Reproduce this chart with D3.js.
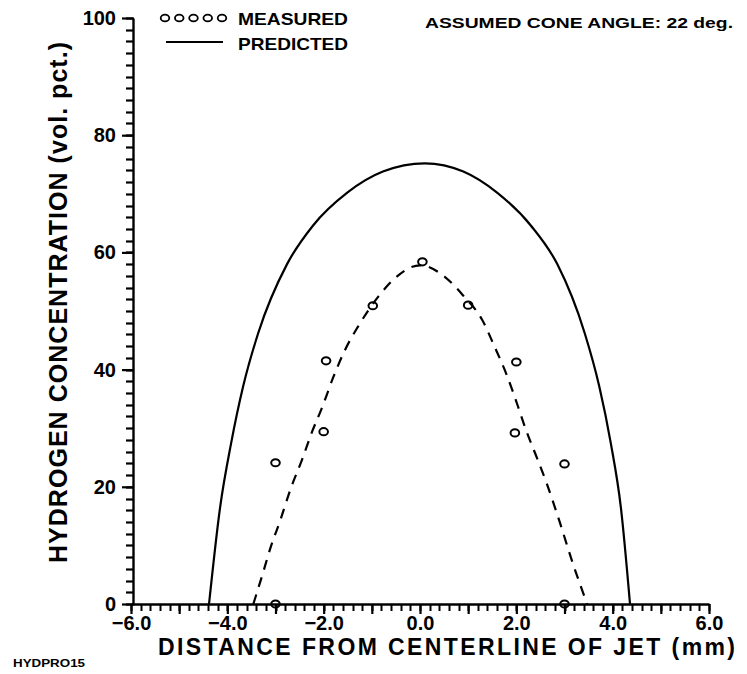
<!DOCTYPE html>
<html>
<head>
<meta charset="utf-8">
<script src="https://cdn.jsdelivr.net/npm/d3@7"></script>
<style>
  body { margin: 0; background: #fff; }
  text { font-family: "Liberation Sans", "DejaVu Sans", sans-serif; fill: #000; }
</style>
</head>
<body>
<div id="chart"></div>
<script>
// valeurs mesurées (cercles)
const measuredX = [-3.0, -2.0, -1.95, -0.98, 0.05, 1.0, 2.0, 1.97, 3.0, -3.0, 3.0];
const measuredY = [24.1, 29.4, 41.5, 50.9, 58.4, 51.0, 41.3, 29.2, 23.9, 0, 0];

// courbe prédite (trait plein)
const predictedX = [-4.38, -4.15, -3.92, -3.67, -3.36, -2.76, -2.22, -1.51, -0.77, 0.1, 0.9, 1.6, 2.3, 2.85, 3.42, 3.72, 3.96, 4.17, 4.36];
const predictedY = [0, 16.5, 27.5, 37.2, 46.2, 58.0, 64.6, 70.2, 73.8, 75.2, 73.8, 70.2, 64.6, 58.0, 46.2, 37.2, 27.5, 16.5, 0];

// courbe ajustée (tirets)
const fitX = [-3.46, -3.26, -3.1, -2.9, -2.68, -2.45, -2.24, -2.03, -1.8, -1.56, -1.29, -0.87, -0.56, 0.0, 0.52, 0.89, 1.29, 1.56, 1.8, 2.01, 2.2, 2.43, 2.63, 2.9, 3.17, 3.47];
const fitY = [0, 5.3, 9.7, 14.3, 19.8, 24.6, 29.4, 33.6, 38.7, 43.3, 47.3, 52.4, 55.3, 57.8, 55.8, 52.7, 48.5, 43.7, 39.1, 34.3, 29.7, 24.9, 20.6, 14.0, 7.0, 0];

// graduations
const xLabelTicks = [-6, -4, -2, 0, 2, 4, 6];
const yLabelTicks = [0, 20, 40, 60, 80, 100];
const xMinor = d3.range(-30, 31).map(i => i / 5);
const xMajor = d3.range(-6, 7);
const yMinor = d3.range(0, 101, 2);

const svg = d3.select("#chart")
    .append("svg")
    .attr("width", 747)
    .attr("height", 674);

const x = d3.scaleLinear().domain([-6, 6]).range([131, 709]);
const y = d3.scaleLinear().domain([0, 100]).range([604, 18]);

// Petites graduations X (vers le bas)
svg.append("g")
    .selectAll("line")
    .data(xMinor)
    .enter()
    .append("line")
    .attr("x1", d => Math.round(x(d)) + 0.5).attr("x2", d => Math.round(x(d)) + 0.5)
    .attr("y1", y(0)).attr("y2", y(0) + 7)
    .attr("stroke", "#000")
    .attr("stroke-width", 2);

// Petites graduations Y (vers la gauche)
svg.append("g")
    .selectAll("line")
    .data(yMinor)
    .enter()
    .append("line")
    .attr("x1", 134).attr("x2", 126)
    .attr("y1", d => Math.round(y(d)) + 0.5).attr("y2", d => Math.round(y(d)) + 0.5)
    .attr("stroke", "#000")
    .attr("stroke-width", 2.2);

// Axe X : graduations entières + étiquettes
svg.append("g")
    .attr("transform", "translate(0,604)")
    .call(d3.axisBottom(x).tickValues(xMajor).tickSize(10).tickFormat("").tickSizeOuter(0))
    .call(g => g.select(".domain").attr("stroke", "#000").attr("stroke-width", 2.4))
    .call(g => g.selectAll(".tick line").attr("stroke", "#000").attr("stroke-width", 2.2));

svg.append("g")
    .attr("transform", "translate(0,604)")
    .call(d3.axisBottom(x).tickValues(xLabelTicks).tickSize(0).tickPadding(12).tickFormat(d3.format(".1f")))
    .call(g => g.select(".domain").remove())
    .call(g => g.selectAll("text")
        .attr("font-size", 20)
        .attr("font-weight", "bold"));

// Axe Y
svg.append("g")
    .attr("transform", "translate(133,0)")
    .call(d3.axisLeft(y).tickValues(yLabelTicks).tickSize(11).tickPadding(6).tickFormat(d3.format("d")).tickSizeOuter(0))
    .call(g => g.select(".domain").attr("stroke", "#000").attr("stroke-width", 2.4))
    .call(g => g.selectAll(".tick line").attr("stroke", "#000").attr("stroke-width", 2.2))
    .call(g => g.selectAll("text")
        .attr("font-size", 20)
        .attr("font-weight", "bold"));

// Courbes
const line = d3.line()
    .x(d => x(d[0]))
    .y(d => y(d[1]))
    .curve(d3.curveMonotoneX);

svg.append("path")
    .datum(d3.zip(predictedX, predictedY))
    .attr("d", line)
    .attr("fill", "none")
    .attr("stroke", "#000")
    .attr("stroke-width", 2.2);

svg.append("path")
    .datum(d3.zip(fitX, fitY))
    .attr("d", line)
    .attr("fill", "none")
    .attr("stroke", "#000")
    .attr("stroke-width", 2.2)
    .attr("stroke-dasharray", "10,8");

// Points mesurés
svg.append("g")
    .selectAll("ellipse")
    .data(d3.zip(measuredX, measuredY))
    .enter()
    .append("ellipse")
    .attr("cx", d => x(d[0]))
    .attr("cy", d => y(d[1]))
    .attr("rx", 4.3)
    .attr("ry", 3.6)
    .attr("fill", "none")
    .attr("stroke", "#000")
    .attr("stroke-width", 2);

// Légende
svg.append("g")
    .selectAll("ellipse")
    .data(d3.range(5))
    .enter()
    .append("ellipse")
    .attr("cx", i => 165 + i * 14.25)
    .attr("cy", 18)
    .attr("rx", 4.3)
    .attr("ry", 3.4)
    .attr("fill", "none")
    .attr("stroke", "#000")
    .attr("stroke-width", 1.8);

svg.append("line")
    .attr("x1", 166).attr("x2", 223)
    .attr("y1", 42).attr("y2", 42)
    .attr("stroke", "#000")
    .attr("stroke-width", 2.2);

svg.append("text")
    .attr("x", 238).attr("y", 25)
    .attr("font-size", 17)
    .attr("font-weight", "bold")
    .attr("textLength", 110).attr("lengthAdjust", "spacingAndGlyphs")
    .text("MEASURED");

svg.append("text")
    .attr("x", 238).attr("y", 50)
    .attr("font-size", 17)
    .attr("font-weight", "bold")
    .attr("textLength", 110).attr("lengthAdjust", "spacingAndGlyphs")
    .text("PREDICTED");

svg.append("text")
    .attr("x", 425).attr("y", 28)
    .attr("font-size", 15)
    .attr("font-weight", "bold")
    .attr("textLength", 308).attr("lengthAdjust", "spacingAndGlyphs")
    .text("ASSUMED CONE ANGLE: 22 deg.");

// Titres des axes
svg.append("text")
    .attr("x", 158).attr("y", 655)
    .attr("font-size", 23)
    .attr("font-weight", "bold")
    .attr("textLength", 577).attr("lengthAdjust", "spacing")
    .text("DISTANCE FROM CENTERLINE OF JET (mm)");

svg.append("text")
    .attr("transform", "translate(67,563) rotate(-90)")
    .attr("font-size", 25)
    .attr("font-weight", "bold")
    .attr("textLength", 521).attr("lengthAdjust", "spacing")
    .text("HYDROGEN CONCENTRATION (vol. pct.)");

svg.append("text")
    .attr("x", 13).attr("y", 667)
    .attr("font-size", 11)
    .attr("font-weight", "bold")
    .attr("textLength", 72).attr("lengthAdjust", "spacingAndGlyphs")
    .text("HYDPRO15");
</script>
</body>
</html>
